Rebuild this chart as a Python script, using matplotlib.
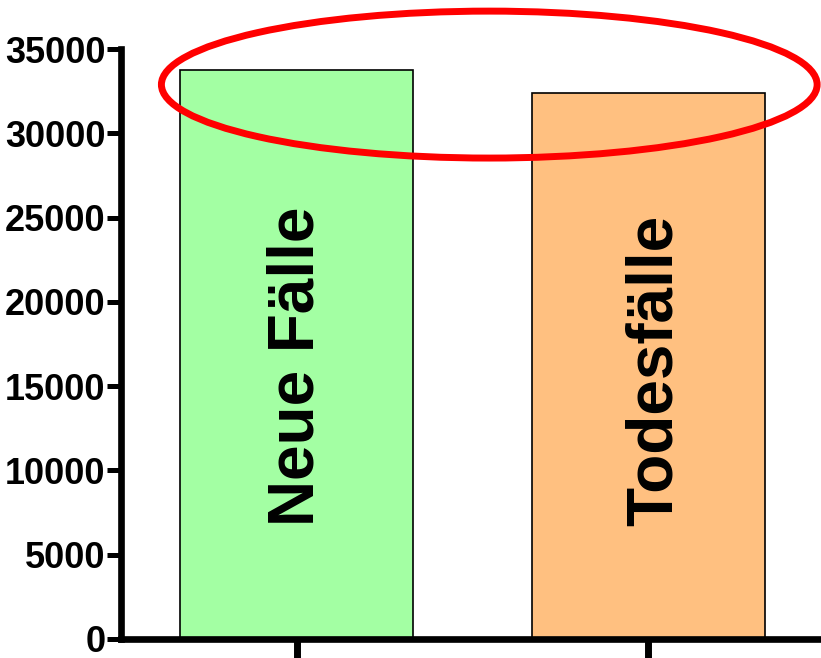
import matplotlib
matplotlib.use("Agg")
import matplotlib.pyplot as plt
from matplotlib.patches import Ellipse

categories = ["Neue Fälle", "Todesfälle"]
values = [33760, 32380]
bar_colors = ["#A3FFA3", "#FFC080"]
y_ticks = [0, 5000, 10000, 15000, 20000, 25000, 30000, 35000]

plt.rcParams["font.family"] = ["Liberation Sans", "DejaVu Sans"]

fig = plt.figure(figsize=(8.21, 6.58), dpi=100)
ax = fig.add_axes([121 / 821, 19 / 658, 700 / 821, 589.8 / 658])

x = list(range(len(categories)))
ax.bar(x, values, width=0.663, color=bar_colors, edgecolor="black", linewidth=1.2, zorder=2)

# category names written vertically inside the bars
label_shift = [0.0, 0.02]
for xi, name, dx in zip(x, categories, label_shift):
    ax.text(xi + dx, 6700, name, rotation=90, ha="center", va="bottom",
            fontsize=46, fontweight="bold", zorder=3)

ax.set_xlim(-0.5, 1.492)
ax.set_ylim(0, 35000)
ax.set_yticks(y_ticks)
ax.set_yticklabels([str(t) for t in y_ticks], fontsize=26, fontweight="bold")
ax.set_xticks(x)
ax.set_xticklabels([])

for side in ("top", "right"):
    ax.spines[side].set_visible(False)
for side in ("left", "bottom"):
    ax.spines[side].set_linewidth(4.8)
ax.tick_params(axis="y", direction="out", length=10, width=3.6, pad=1)
ax.tick_params(axis="x", direction="out", length=14, width=5)

# red highlight around the bar tops
ell = Ellipse((0.548, 32900), width=1.866, height=8720, fill=False,
              edgecolor="#FF0000", linewidth=5, clip_on=False, zorder=4)
ax.add_patch(ell)

fig.savefig("out.png", dpi=100)
